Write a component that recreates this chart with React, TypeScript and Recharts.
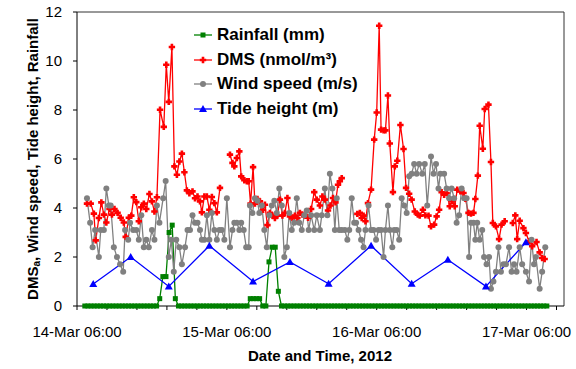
import React from 'react';
import { ComposedChart, Line, XAxis, YAxis, Legend, ReferenceLine } from 'recharts';

// x values are hours after 14-Mar-2012 06:00
const xTicks = [0, 4.8, 9.6, 14.4, 19.2, 24, 28.8, 33.6, 38.4, 43.2, 48, 52.8, 57.6, 62.4, 67.2, 72, 76.8];
const xTickLabels: Record<number, string> = {
  0: '14-Mar 06:00',
  24: '15-Mar 06:00',
  48: '16-Mar 06:00',
  72: '17-Mar 06:00',
};
const yTicks = [0, 2, 4, 6, 8, 10, 12];

// rainfall (mm), one reading every half hour from 01:15 h
const RAIN_START = 1.25;
const RAIN_STEP = 0.5;
const rainfall = [
  0, 0, 0, 0, 0, 0, 0, 0, 0, 0, 0, 0,
  0, 0, 0, 0, 0, 0, 0, 0, 0, 0, 0, 0,
  0.3, 1.2, 1.2, 3.0, 3.3, 0.3, 0, 0, 0, 0, 0, 0,
  0, 0, 0, 0, 0, 0, 0, 0, 0, 0, 0, 0,
  0, 0, 0, 0, 0, 0.3, 0.3, 0.3, 0.3, 0, 0, 1.8,
  2.4, 2.4, 0.6, 0, 0, 0, 0, 0, 0, 0, 0, 0,
  0, 0, 0, 0, 0, 0, 0, 0, 0, 0, 0, 0,
  0, 0, 0, 0, 0, 0, 0, 0, 0, 0, 0, 0,
  0, 0, 0, 0, 0, 0, 0, 0, 0, 0, 0, 0,
  0, 0, 0, 0, 0, 0, 0, 0, 0, 0, 0, 0,
  0, 0, 0, 0, 0, 0, 0, 0, 0, 0, 0, 0,
  0, 0, 0, 0, 0, 0, 0, 0, 0, 0, 0, 0,
  0, 0, 0, 0, 0,
];

// DMS (nmol/m3): [hour, value], null = no sample
const dms: [number, number | null][] = [
  [1.6, 4.18], [2.2, 4.18], [2.7, 3.77], [3.0, 2.68], [3.5, 3.59], [3.9, 4.23], [4.3, 3.73], [4.7, 3.41],
  [5.2, 3.96], [5.6, 3.73], [6.0, 3.96], [6.5, 3.8], [7.0, 3.6], [7.5, 3.41], [7.8, 2.82], [8.3, 3.6],
  [8.7, 3.69], [9.1, 4.44], [9.5, 4.24], [9.9, 3.46], [10.3, 4.03], [10.7, 4.18], [11.1, 3.96], [11.6, 4.57],
  [12.0, 4.27], [12.4, 3.86], [12.8, 4.44], [13.3, 8.01], [13.9, 7.31], [14.3, 9.85], [14.7, 8.33], [15.2, 10.57],
  [15.6, 5.7], [16.0, 5.36], [16.4, 5.9], [16.8, 6.22], [17.2, 5.46], [17.6, 4.72], [18.0, 4.6], [18.5, 4.68],
  [18.9, 4.4], [19.3, 4.47], [19.7, 4.27], [20.0, 3.82], [20.4, 4.47], [20.8, 4.47], [21.2, 3.93], [21.6, 4.45],
  [22.0, 4.2], [22.4, 3.82], [22.9, 4.82], [23.7, null],
  [24.5, 6.18], [24.9, 5.84], [25.2, 5.7], [25.6, 6.04], [26.0, 6.31], [26.3, 5.29], [26.8, 5.13], [27.2, 5.09],
  [27.5, 5.09], [27.8, 4.18], [28.2, 5.67], [28.5, 4.18], [28.9, 4.37], [29.3, 4.27], [29.8, 3.93], [30.1, 4.13],
  [30.5, 3.3], [30.9, 3.8], [31.3, 3.69], [31.7, 3.59], [32.1, 3.69], [32.5, 4.34], [32.9, 3.69], [33.3, 3.8],
  [33.7, 4.41], [34.1, 3.66], [34.5, 3.59], [34.9, 3.69], [35.3, 3.59], [35.7, 3.8], [36.1, 3.73], [36.5, 3.69],
  [37.0, 3.6], [37.5, 3.96], [38.0, 4.65], [38.4, 4.34], [38.9, 4.1], [39.3, 4.47], [39.7, 4.34], [40.2, 3.9],
  [40.6, 4.1], [41.0, 4.41], [41.4, 4.23], [41.8, 4.95], [42.1, 5.09], [42.4, 5.22], [43.5, null],
  [44.9, 3.76], [45.3, 3.8], [45.6, 3.59], [45.9, 3.69], [46.2, 3.46], [46.6, 4.2], [47.1, 4.75], [47.6, 6.79],
  [48.0, 7.9], [48.4, 11.44], [48.7, 7.2], [49.1, 7.17], [49.4, 7.17], [49.8, 8.59], [50.1, 6.63], [50.6, 4.65],
  [50.9, 5.7], [51.3, 5.93], [51.8, 7.39], [52.3, 6.41], [52.7, 4.82], [53.2, 4.58], [53.6, 4.34], [54.1, 3.86],
  [54.6, 3.73], [54.9, 3.69], [55.4, 3.93], [55.8, 3.7], [56.3, 3.69], [56.7, 3.25], [57.2, 3.32], [57.6, 3.66],
  [58.0, 3.93], [58.4, 4.64], [58.8, 4.54], [59.2, 4.61], [59.7, 4.07], [60.1, 4.27], [60.5, 4.07], [60.9, 4.75],
  [61.4, 4.68], [61.9, 4.61], [62.2, 4.38], [62.7, 3.8], [63.1, 3.77], [63.5, 3.8], [63.8, 4.37], [64.2, 5.32],
  [64.5, 7.36], [65.0, 6.42], [65.3, 8.04], [65.9, 8.22], [66.3, 5.88], [66.6, 3.39], [67.1, 3.25], [67.6, 2.73],
  [68.0, 3.32], [68.5, 3.46], [69.1, null],
  [69.8, 3.39], [70.2, 3.7], [70.5, 2.73], [70.9, 3.48], [71.5, 3.18], [71.9, 2.98], [72.4, 2.64], [72.9, 2.44],
  [73.6, 2.61], [74.1, 2.19], [74.5, 1.96], [74.9, 1.92],
];

// wind speed (m/s): [hour, value]
const wind: [number, number][] = [
  [1.6, 4.4], [2.1, 3.4], [2.5, 2.4], [2.9, 3.1], [3.5, 2.0], [3.8, 3.1], [4.3, 3.1], [4.7, 4.8],
  [5.1, 4.1], [5.4, 4.1], [5.9, 2.4], [6.4, 2.0], [6.9, 1.7], [7.4, 1.4], [7.7, 3.1], [8.2, 2.7],
  [8.5, 3.4], [9.0, 3.1], [9.5, 3.1], [9.9, 2.7], [10.3, 3.7], [10.7, 2.4], [11.1, 2.7], [11.5, 2.4],
  [12.0, 3.1], [12.4, 2.7], [12.8, 4.1], [13.2, 3.4], [13.8, 4.4], [14.2, 5.1], [14.7, 2.0], [15.1, 2.7],
  [15.5, 1.4], [15.9, 2.7], [16.4, 2.4], [16.8, 1.7], [17.3, 2.4], [17.7, 3.1], [18.1, 3.1], [18.5, 3.7],
  [18.9, 3.4], [19.3, 3.4], [19.7, 3.1], [20.0, 2.7], [20.4, 2.7], [20.8, 3.7], [21.2, 2.7], [21.6, 3.8],
  [22.0, 3.1], [22.4, 2.7], [22.8, 3.1], [23.2, 3.1], [23.6, 2.7], [24.0, 4.4], [24.5, 2.4], [24.9, 3.1],
  [25.2, 3.4], [25.6, 3.4], [26.0, 3.1], [26.3, 3.4], [26.7, 3.1], [27.1, 2.4], [27.5, 2.4], [27.7, 4.1],
  [28.1, 3.8], [28.5, 4.4], [28.9, 4.3], [29.2, 3.8], [29.6, 4.1], [30.0, 3.1], [30.4, 2.4], [30.8, 3.7],
  [31.2, 4.1], [31.6, 4.3], [32.0, 3.8], [32.4, 4.8], [32.8, 4.1], [33.2, 2.0], [33.6, 2.4], [34.0, 3.8],
  [34.4, 3.1], [34.8, 3.4], [35.2, 4.4], [35.6, 3.4], [36.0, 3.1], [36.4, 3.7], [36.8, 3.9], [37.1, 3.1],
  [37.5, 3.7], [38.0, 3.1], [38.4, 3.7], [38.9, 3.1], [39.2, 3.7], [39.7, 4.8], [40.1, 3.7], [40.5, 5.4],
  [40.9, 4.8], [41.3, 3.1], [41.6, 4.4], [42.0, 3.1], [42.4, 3.1], [42.9, 3.1], [43.3, 2.7], [43.6, 3.1],
  [44.0, 4.4], [44.4, 3.4], [44.7, 3.4], [45.1, 3.1], [45.5, 2.7], [45.9, 2.4], [46.2, 3.1], [46.7, 4.1],
  [47.1, 3.1], [47.5, 3.1], [47.9, 2.7], [48.3, 3.1], [48.7, 3.1], [49.1, 2.0], [49.4, 3.1], [49.8, 4.1],
  [50.1, 3.1], [50.5, 2.4], [50.8, 3.1], [51.2, 3.1], [51.6, 2.7], [52.0, 4.4], [52.4, 4.1], [52.8, 3.8],
  [53.2, 5.3], [53.6, 5.4], [54.0, 5.8], [54.4, 5.4], [54.8, 5.8], [55.3, 5.4], [55.7, 5.8], [56.1, 4.1],
  [56.7, 6.1], [57.1, 5.4], [57.5, 5.8], [57.9, 4.8], [58.2, 5.4], [58.8, 5.4], [59.2, 4.8], [59.6, 4.4],
  [60.0, 4.8], [60.4, 4.4], [60.8, 3.4], [61.2, 3.7], [61.6, 4.8], [62.0, 4.4], [62.4, 4.4], [62.8, 2.0],
  [63.1, 3.4], [63.5, 3.4], [63.8, 2.7], [64.1, 3.4], [64.5, 2.7], [64.9, 3.1], [65.2, 2.0], [65.6, 1.7],
  [66.0, 2.0], [66.3, 0.7], [66.7, 1.0], [67.1, 1.4], [67.5, 2.4], [67.9, 1.4], [68.3, 1.7], [68.7, 1.7],
  [69.2, 2.4], [69.6, 1.4], [70.0, 1.7], [70.4, 1.4], [70.9, 2.4], [71.3, 1.7], [71.9, 1.4], [72.4, 1.0],
  [72.8, 2.7], [73.2, 1.7], [73.5, 2.0], [74.1, 0.7], [74.5, 1.4], [75.0, 2.4],
];

// tide height (m): [hour, value]
const tide: [number, number][] = [
  [2.6, 0.9], [8.6, 2.0], [14.7, 0.8], [21.2, 2.46], [28.2, 1.0], [34.1, 1.8],
  [40.3, 0.91], [47.1, 2.46], [53.6, 0.91], [59.4, 1.89], [65.5, 0.8], [71.9, 2.6],
];

const rainData = rainfall.map((v, i) => ({ t: RAIN_START + i * RAIN_STEP, v }));
const dmsData = dms.map(([t, v]) => ({ t, v }));
const windData = wind.map(([t, v]) => ({ t, v }));
const tideData = tide.map(([t, v]) => ({ t, v }));

const FONT = '"Liberation Sans", Arial, sans-serif';
const GREEN = '#008000';
const RED = '#ff0000';
const GREY = '#808080';
const BLUE = '#0000ff';

const square = (cx: number, cy: number, color: string, key?: any) => (
  <rect key={key} x={cx - 2.5} y={cy - 2.5} width={5} height={5} fill={color} />
);
const plus = (cx: number, cy: number, color: string, key?: any) => (
  <path
    key={key}
    d={`M${cx - 1.3},${cy - 3.2}h2.6v1.9h1.9v2.6h-1.9v1.9h-2.6v-1.9h-1.9v-2.6h1.9z`}
    fill={color}
  />
);
const circle = (cx: number, cy: number, color: string, key?: any) => (
  <circle key={key} cx={cx} cy={cy} r={3} fill={color} />
);
const triangle = (cx: number, cy: number, color: string, key?: any) => (
  <polygon key={key} points={`${cx},${cy - 4} ${cx + 4},${cy + 3} ${cx - 4},${cy + 3}`} fill={color} />
);

const makeDot = (shape: typeof square, color: string) => (p: any) => {
  const k = `d${p.index}`;
  if (p.cx == null || p.cy == null || p.value == null) return <g key={k} />;
  return shape(p.cx, p.cy, color, k);
};

const legendItems = [
  { label: 'Rainfall (mm)', color: GREEN, shape: square },
  { label: 'DMS (nmol/m³)', color: RED, shape: plus },
  { label: 'Wind speed (m/s)', color: GREY, shape: circle },
  { label: 'Tide height (m)', color: BLUE, shape: triangle },
];

const LegendBox = () => (
  <div style={{ fontFamily: FONT, fontWeight: 'bold', fontSize: 17, color: '#000' }}>
    {legendItems.map((it) => (
      <div key={it.label} style={{ display: 'flex', alignItems: 'center', height: 24.5 }}>
        <svg width={23} height={12} style={{ flexShrink: 0 }}>
          <line x1={0} x2={18} y1={6} y2={6} stroke={it.color} strokeWidth={1.3} />
          {it.shape(9, 6, it.color)}
        </svg>
        <span style={{ whiteSpace: 'nowrap' }}>{it.label}</span>
      </div>
    ))}
  </div>
);

const YTitle = () => (
  <text
    x={32}
    y={159}
    transform="rotate(-90 32 159)"
    textAnchor="middle"
    dominantBaseline="central"
    style={{ fontFamily: FONT, fontSize: 15, fontWeight: 'bold', fill: '#000' }}
  >
    DMS<tspan fontSize={10} dy={4}>a</tspan>
    <tspan dy={-4}>, Wind speed, Tide height, Rainfall</tspan>
  </text>
);

const XTitle = () => (
  <text
    x={320}
    y={361}
    textAnchor="middle"
    style={{ fontFamily: FONT, fontSize: 15, fontWeight: 'bold', fill: '#000' }}
  >
    Date and Time, 2012
  </text>
);

const tickStyle = { fontFamily: FONT, fontSize: 15, fill: '#000' };

export default function App() {
  return (
    <div style={{ position: 'absolute', left: 0, top: 0, width: 576, height: 369, background: '#fff' }}>
      <ComposedChart width={576} height={369} margin={{ top: 12, right: 12, bottom: 0, left: 0 }}>
        <XAxis
          type="number"
          dataKey="t"
          domain={[0, 78]}
          ticks={xTicks}
          interval={0}
          allowDataOverflow
          tickFormatter={(v: number) => xTickLabels[Math.round(v * 10) / 10] ?? ''}
          tick={tickStyle}
          tickSize={4}
          tickMargin={16}
          height={63}
          axisLine={{ stroke: '#000' }}
          tickLine={{ stroke: '#000' }}
          label={<XTitle />}
        />
        <YAxis
          type="number"
          domain={[0, 12]}
          ticks={yTicks}
          interval={0}
          tick={tickStyle}
          tickSize={4}
          tickMargin={11}
          width={77}
          axisLine={{ stroke: '#000' }}
          tickLine={{ stroke: '#000' }}
          label={<YTitle />}
        />
        <ReferenceLine y={12} stroke="#333" strokeWidth={1} />
        <ReferenceLine x={78} stroke="#333" strokeWidth={1} />
        <Legend
          layout="vertical"
          align="center"
          verticalAlign="middle"
          wrapperStyle={{ left: 194, top: 23, width: 220, height: 100 }}
          content={<LegendBox />}
        />
        <Line
          data={rainData}
          dataKey="v"
          stroke={GREEN}
          strokeWidth={1.3}
          dot={makeDot(square, GREEN)}
          activeDot={false}
          isAnimationActive={false}
        />
        <Line
          data={dmsData}
          dataKey="v"
          stroke={RED}
          strokeWidth={1.3}
          dot={makeDot(plus, RED)}
          activeDot={false}
          connectNulls={false}
          isAnimationActive={false}
        />
        <Line
          data={windData}
          dataKey="v"
          stroke={GREY}
          strokeWidth={1.3}
          dot={makeDot(circle, GREY)}
          activeDot={false}
          isAnimationActive={false}
        />
        <Line
          data={tideData}
          dataKey="v"
          stroke={BLUE}
          strokeWidth={1.3}
          dot={makeDot(triangle, BLUE)}
          activeDot={false}
          isAnimationActive={false}
        />
      </ComposedChart>
    </div>
  );
}
